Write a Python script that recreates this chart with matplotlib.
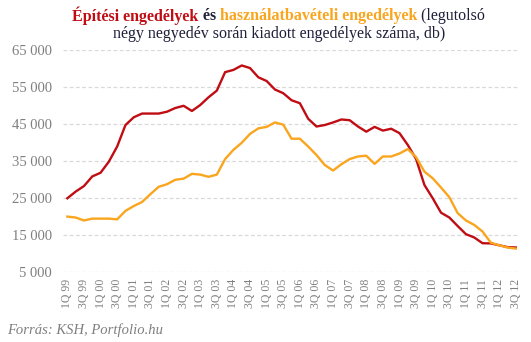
import matplotlib
matplotlib.use("Agg")
import matplotlib.pyplot as plt
import numpy as np

# quarters 1Q99 .. 3Q12
years = ["99"] + ["%02d" % y for y in range(0, 13)]
quarters = []
for yy in years:
    for q in range(1, 5):
        quarters.append("%dQ %s" % (q, yy))
quarters = quarters[:55]

epitesi = [24900, 26700, 28200, 30800, 31800, 34800, 38900, 44700, 46800, 47800,
           47800, 47800, 48300, 49300, 49900, 48500, 50100, 52200, 54000, 59000,
           59600, 60800, 60100, 57600, 56600, 54300, 53300, 51400, 50600, 46400,
           44300, 44700, 45400, 46200, 46000, 44300, 42900, 44200, 43200, 43700,
           42500, 39300, 35500, 28500, 24900, 21000, 19700, 17400, 15200, 14300,
           12750, 12700, 12200, 11700, 11600]

hasznalat = [19950, 19700, 18900, 19400, 19400, 19400, 19200, 21500, 22800, 23900,
             26000, 28000, 28700, 29900, 30200, 31500, 31300, 30700, 31300, 35500,
             38000, 39900, 42300, 43800, 44200, 45400, 44800, 41000, 41000, 38900,
             36600, 33900, 32400, 34100, 35500, 36200, 36400, 34200, 36200, 36200,
             37000, 38200, 36000, 32100, 30300, 27800, 25200, 20900, 18900, 17700,
             15900, 12900, 12200, 11600, 11300]

yticks = [5000, 15000, 25000, 35000, 45000, 55000, 65000]

red = "#C00D14"
orange = "#F9A51E"
grey = "#7F7F7F"
serif = ["Liberation Serif", "DejaVu Serif"]

fig = plt.figure(figsize=(5.31, 3.42), dpi=100)
ax = fig.add_axes([0.119, 0.205, 0.857, 0.649])

x = np.arange(len(quarters))
ax.plot(x, epitesi, color=red, lw=1.7, solid_joinstyle="round", zorder=3)
ax.plot(x, hasznalat, color=orange, lw=1.7, solid_joinstyle="round", zorder=3)

ax.set_xlim(-0.5, 54.3)
ax.set_ylim(5000, 65000)
ax.set_yticks(yticks)
ax.set_yticklabels(["{:,}".format(v).replace(",", " ") for v in yticks],
                   family=serif, fontsize=10.5, color=grey)
ax.set_xticks(x[::2])
ax.set_xticklabels(quarters[::2], rotation=90, family=serif, fontsize=8.5, color=grey)
ax.tick_params(length=0, pad=5)
ax.tick_params(axis="y", pad=8)
ax.grid(axis="y", color="#D9D9D9", linestyle=(0, (3, 2)), lw=0.9)
for s in ax.spines.values():
    s.set_visible(False)

# title built from coloured pieces
fig.canvas.draw()
r = fig.canvas.get_renderer()
pieces = [("Építési engedélyek", red, "bold"), (" és ", "#1F1F3A", "bold"),
          ("használatbavételi engedélyek", orange, "bold"), (" (legutolsó", "#1F1F3A", "normal")]
texts = []
for s, c, w in pieces:
    t = fig.text(0, 0.953, s, color=c, fontweight=w, family=serif, fontsize=11.5, va="center")
    texts.append(t)
widths = [t.get_window_extent(r).width for t in texts]
total = sum(widths)
start = (fig.bbox.width * 0.525 - total / 2)
for t, w in zip(texts, widths):
    t.set_x(start / fig.bbox.width)
    start += w
fig.text(0.525, 0.9, "négy negyedév során kiadott engedélyek száma, db)", color="#1F1F3A",
         family=serif, fontsize=11.5, ha="center", va="center")

fig.text(0.013, 0.035, "Forrás: KSH, Portfolio.hu", color=grey, style="italic",
         family=serif, fontsize=10.5, va="center")

fig.savefig("out.png", dpi=100)
